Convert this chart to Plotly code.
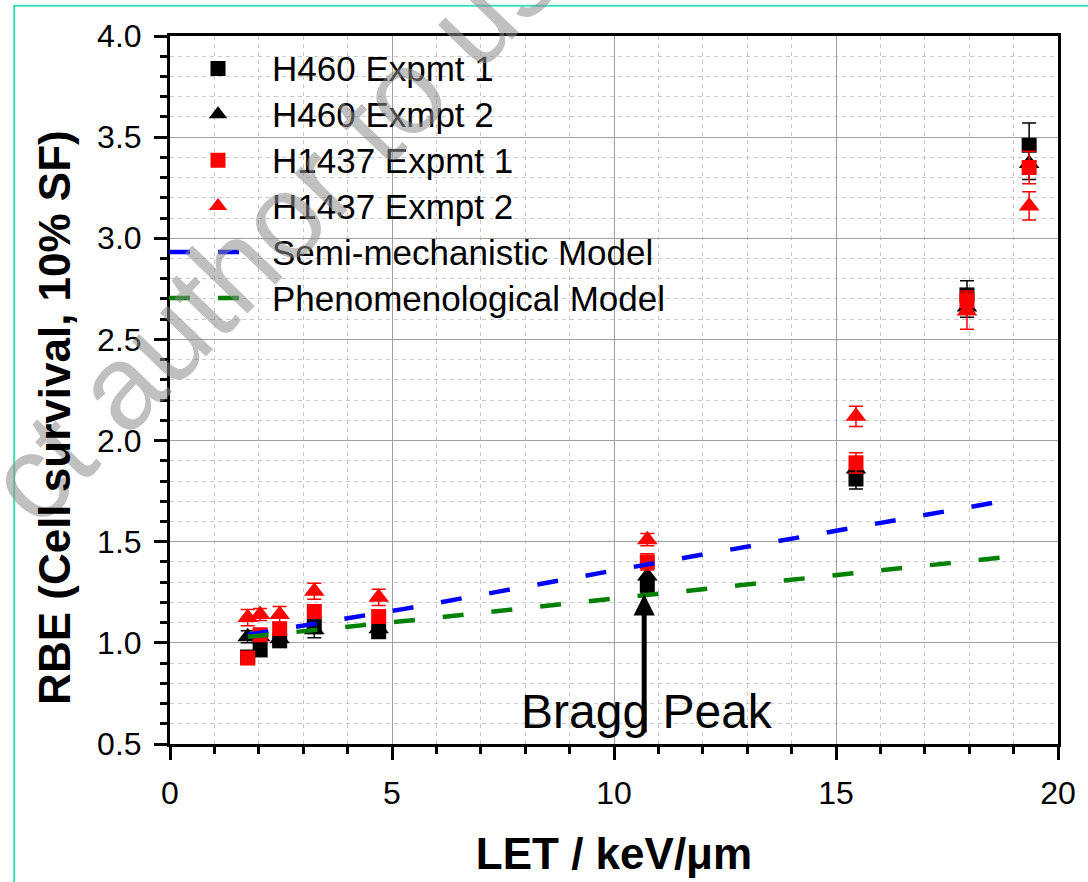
import plotly.graph_objects as go

# ---------------- data ----------------
let_kev = [1.75, 2.03, 2.47, 3.25, 4.7, 10.75, 15.45, 17.95, 19.35]

h460_exp1 = [0.93, 0.965, 1.01, 1.08, 1.055, 1.285, 1.81, 2.72, 3.46]
h460_exp1_err = [0.03, 0.03, 0.03, 0.03, 0.02, 0.04, 0.05, 0.07, 0.11]

h460_exp2 = [1.03, 1.03, 1.02, 1.065, 1.07, 1.33, 1.86, 2.66, 3.37]
h460_exp2_err = [0.03, 0.03, 0.03, 0.04, 0.02, 0.04, 0.05, 0.05, 0.08]

h1437_exp1 = [0.925, 1.04, 1.07, 1.155, 1.13, 1.40, 1.89, 2.69, 3.35]
h1437_exp1_err = [0.02, 0.03, 0.03, 0.03, 0.03, 0.04, 0.05, 0.05, 0.08]

h1437_exp2 = [1.125, 1.14, 1.14, 1.255, 1.225, 1.51, 2.12, 2.64, 3.16]
h1437_exp2_err = [0.04, 0.03, 0.04, 0.04, 0.04, 0.03, 0.05, 0.09, 0.07]

semi_let = [1.75, 3.08, 5.28, 10.8, 16.1, 19.0]
semi_rbe = [1.04, 1.088, 1.168, 1.39, 1.594, 1.71]

phen_let = [1.75, 3.08, 5.28, 10.9, 19.3]
phen_rbe = [1.03, 1.058, 1.108, 1.24, 1.435]

bragg_let = 10.68
bragg_head = 1.24
bragg_tail = 0.55

x_ticks = [0, 5, 10, 15, 20]
y_ticks = [0.5, 1.0, 1.5, 2.0, 2.5, 3.0, 3.5, 4.0]

FONT = "Arial, 'Liberation Sans', Helvetica, sans-serif"
LEG_SIZE = 35

fig = go.Figure()

def legname(s):
    return f"<span style='font-size:{LEG_SIZE}px'>{s}</span>"

def pts(name, y, err, symbol, color, size):
    fig.add_trace(go.Scatter(
        x=let_kev, y=y, mode="markers", name=legname(name),
        marker=dict(symbol=symbol, color=color, size=size, line=dict(width=0)),
        error_y=dict(type="data", array=err, visible=True, color=color,
                     thickness=1.5, width=7),
    ))

pts("H460 Expmt 1", h460_exp1, h460_exp1_err, "square", "black", 15)
pts("H460 Exmpt 2", h460_exp2, h460_exp2_err, "triangle-up", "black", 18)
pts("H1437 Expmt 1", h1437_exp1, h1437_exp1_err, "square", "red", 15)
pts("H1437 Exmpt 2", h1437_exp2, h1437_exp2_err, "triangle-up", "red", 18)

fig.add_trace(go.Scatter(x=semi_let, y=semi_rbe, mode="lines",
                         name=legname("Semi-mechanistic Model"),
                         line=dict(color="blue", width=4.5, dash="21px,28px")))
fig.add_trace(go.Scatter(x=phen_let, y=phen_rbe, mode="lines",
                         name=legname("Phenomenological Model"),
                         line=dict(color="green", width=4.5, dash="21px,28px")))

L, R, T, B = 170, 29, 36, 132
W, H = 1088, 882
pw, ph = W - L - R, H - T - B

def px2paper_x(px):
    return (px - L) / pw

def px2paper_y(py):
    return (H - B - py) / ph

# Bragg peak arrow + label
fig.add_annotation(x=bragg_let, y=bragg_head, ax=bragg_let, ay=bragg_tail,
                   xref="x", yref="y", axref="x", ayref="y", text="",
                   showarrow=True, arrowhead=2, arrowwidth=5, arrowsize=0.85,
                   arrowcolor="black")
fig.add_annotation(x=10.75, y=0.66, xref="x", yref="y", text="Bragg Peak",
                   showarrow=False, font=dict(family=FONT, size=48, color="black"),
                   xanchor="center", yanchor="middle")

# watermark
fig.add_annotation(x=px2paper_x(272), y=px2paper_y(230), xref="paper", yref="paper",
                   xanchor="center", yanchor="middle",
                   text="ct author to us", showarrow=False, textangle=-46,
                   font=dict(family=FONT, size=120, color="rgba(140,140,140,0.55)"))

# y axis title (placed as in the reference, slightly below plot centre)
fig.add_annotation(x=px2paper_x(55), y=px2paper_y(421), xref="paper", yref="paper",
                   xanchor="center", yanchor="middle", textangle=-90,
                   text="<b>RBE (Cell survival, 10% SF)</b>", showarrow=False,
                   font=dict(family=FONT, size=44, color="black"))

# cyan frame around the picture
fig.add_shape(type="rect", xref="paper", yref="paper",
              x0=px2paper_x(14), x1=px2paper_x(1120),
              y0=px2paper_y(920), y1=px2paper_y(5.5),
              line=dict(color="#3ee0bc", width=2), fillcolor="rgba(0,0,0,0)",
              layer="above")

axis_common = dict(
    showline=True, linewidth=3, linecolor="black", mirror=True,
    ticks="outside", ticklen=13, tickwidth=2.5, tickcolor="black",
    showgrid=True, gridcolor="#a0a0a0", gridwidth=1.2,
    zeroline=False,
    tickfont=dict(family=FONT, size=32, color="black"),
)

fig.update_xaxes(
    range=[0, 20], tickmode="array", tickvals=x_ticks,
    ticktext=[str(v) for v in x_ticks],
    minor=dict(dtick=1, ticklen=7, tickwidth=2.5, tickcolor="black", ticks="outside",
               showgrid=True, gridcolor="#c8c8c8", gridwidth=1, griddash="4px,4px"),
    title=dict(text="<b>LET / keV/μm</b>", font=dict(family=FONT, size=44, color="black"),
               standoff=28),
    ticklabelstandoff=6,
    **axis_common,
)
fig.update_yaxes(
    range=[0.5, 4.0], tickmode="array", tickvals=y_ticks,
    ticktext=[f"{v:.1f}" for v in y_ticks],
    minor=dict(dtick=0.1, ticklen=7, tickwidth=2.5, tickcolor="black", ticks="outside",
               showgrid=True, gridcolor="#c8c8c8", gridwidth=1, griddash="4px,4px"),
    ticklabelstandoff=6,
    **axis_common,
)

fig.update_layout(
    width=W, height=H, autosize=False,
    margin=dict(l=L, r=R, t=T, b=B, pad=0),
    paper_bgcolor="white", plot_bgcolor="white",
    font=dict(family=FONT, color="black"),
    showlegend=True,
    legend=dict(x=px2paper_x(164), y=px2paper_y(40.5), xanchor="left", yanchor="top",
                bgcolor="rgba(0,0,0,0)", borderwidth=0,
                font=dict(family=FONT, size=33, color="black"),
                itemwidth=98, tracegroupgap=0),
)

fig.write_html("out.html", include_plotlyjs=True, config={"displayModeBar": False})
